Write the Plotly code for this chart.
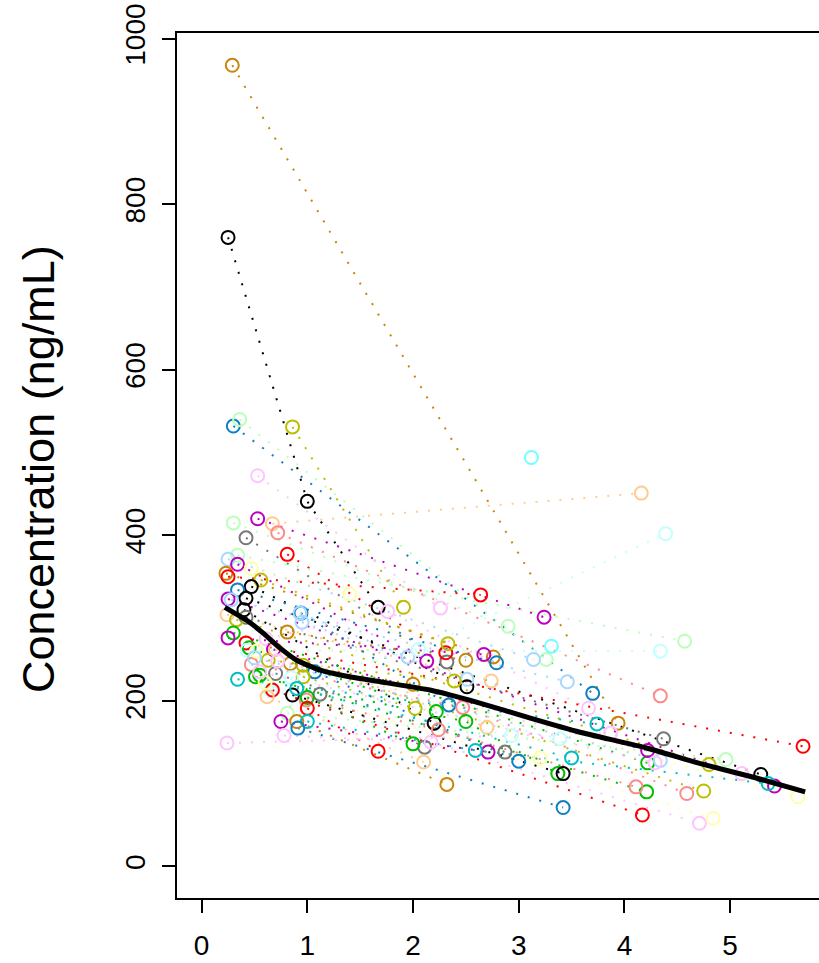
import plotly.graph_objects as go

# ---------------- data ----------------
subject_color = [
    "brown", "black", "blue", "olive", "lightgreen", "pink", "magenta", "peach",
    "salmon", "gray", "red", "lightgreen", "lightblue", "magenta", "lightyellow", "brown",
    "red", "olive", "black", "blue", "black", "magenta", "lightblue", "black",
    "blue", "lightblue", "peach", "gray", "olive", "lightblue", "brown", "green",
    "magenta", "pink", "red", "green", "magenta", "lightcyan", "lightcyan", "gray",
    "olive", "olive", "salmon", "brown", "cyan", "blue", "olive", "green",
    "green", "lightcyan", "red", "gray", "black", "salmon", "green", "red",
    "lightgreen", "lightgreen", "magenta", "brown", "cyan", "blue", "pink", "pink",
    "peach", "peach", "lightyellow", "lightyellow", "lightblue", "lightcyan", "aqua", "aqua",
    "pink", "pink", "cyan",
]
subject_time = [
    [0.29, 3.94], [0.25, 1.00, 1.67], [0.30, 3.70], [0.86, 1.91], [0.36, 3.26], [0.53, 2.26],
    [0.53, 3.24], [0.67, 4.16], [0.72, 4.34], [0.42, 2.32], [0.81, 2.31], [0.34, 4.57],
    [0.25, 3.14], [0.34, 2.13], [0.47, 1.40, 3.20], [0.23, 2.76], [0.25, 2.64], [0.56, 2.33],
    [0.47, 2.51], [0.34, 2.79], [0.42, 5.29], [0.25, 5.42], [0.28, 3.46], [0.40, 2.20],
    [0.94, 2.34], [0.93, 1.95], [0.24, 2.74], [0.42, 4.37], [0.33, 4.80], [0.95, 2.51],
    [0.81, 2.50], [0.30, 4.22], [0.25, 2.67], [0.61, 1.76, 3.66], [0.42, 5.69], [0.45, 2.22],
    [0.68, 4.22], [0.62, 2.05, 4.39], [0.43, 4.34], [0.70, 2.87], [0.63, 2.39], [0.96, 4.75],
    [0.47, 2.47, 4.59], [0.84, 2.00], [0.34, 3.74], [1.07, 3.00], [0.96, 2.02], [0.51, 2.50, 3.37],
    [0.55, 4.21], [0.65, 2.93], [0.67, 4.17], [1.12, 2.11], [0.86, 3.42], [0.99, 2.24, 4.11],
    [1.00, 2.00], [1.00, 1.67], [0.81, 4.96], [0.30, 2.90], [0.75, 2.71], [0.90, 2.32],
    [1.00, 2.59, 5.36], [0.91, 3.42], [0.78, 2.17, 4.71], [0.24, 3.87], [0.70, 2.70], [0.62, 2.10],
    [0.60, 4.84], [0.52, 5.64], [0.50, 4.34], [0.85, 3.39], [3.12], [3.31],
    [0.55, 4.29], [0.72, 5.11], [0.90, 3.50],
]
subject_conc = [
    [968, 173], [760, 441, 313], [532, 209], [531, 313], [540, 250], [472, 312],
    [420, 301], [414, 451], [403, 206], [397, 247], [377, 258], [376, 272],
    [371, 250], [365, 248], [360, 329, 131], [354, 253], [350, 328], [346, 269],
    [338, 217], [334, 246], [324, 111], [323, 97], [322, 223], [310, 173],
    [306, 195], [306, 253], [304, 224], [301, 154], [298, 123], [295, 226],
    [283, 249], [282, 125], [276, 256], [275, 308, 191], [270, 145], [264, 187],
    [262, 140], [219, 262, 402], [261, 260], [233, 138], [249, 224], [243, 91],
    [244, 192, 88], [245, 220], [226, 172], [235, 127], [229, 191], [229, 175, 112],
    [231, 90], [213, 158], [213, 62], [208, 144], [207, 112], [201, 165, 96],
    [204, 148], [191, 139], [185, 129], [415, 290], [175, 138], [175, 99],
    [175, 140, 100], [167, 71], [158, 150, 52], [149, 161], [262, 168], [205, 126],
    [222, 58], [260, 84], [252, 128], [228, 154], [494], [266],
    [235, 125], [248, 112], [215, 131],
]

smooth_time = [0.22, 0.43, 0.58, 0.74, 0.90, 1.12, 1.40, 1.69, 2.16, 2.64, 3.11, 3.58, 4.21, 4.72, 5.24, 5.71]
smooth_conc = [313, 297, 282, 264, 249, 237, 229, 223, 213, 197, 179, 162, 143, 124, 107, 90]

x_ticks = [0, 1, 2, 3, 4, 5]
y_ticks = [0, 200, 400, 600, 800, 1000]
y_label = "Concentration (ng/mL)"

# ---------------- styles ----------------
palette = {
    "black": "#000000", "red": "#FF0000", "green": "#00BE00", "blue": "#0F7FC0",
    "cyan": "#00BFC4", "magenta": "#BE00BE", "olive": "#BEBE00", "gray": "#777777",
    "brown": "#C8860A", "salmon": "#FF8A8A", "lightgreen": "#BBFFBB", "lightblue": "#A8D8FF",
    "lightcyan": "#C4FFFF", "pink": "#FFC4FF", "lightyellow": "#FFFFAA", "peach": "#FFCC90",
    "aqua": "#70FFFF",
}
FONT = "Liberation Sans, Arial, Helvetica, sans-serif"

fig = go.Figure()

# dotted subject lines
for cname, t, c in zip(subject_color, subject_time, subject_conc):
    if len(t) < 2:
        continue
    fig.add_trace(go.Scatter(
        x=t, y=c, mode="lines",
        line=dict(color=palette[cname], width=2, dash="2px,10px"),
        hoverinfo="skip", showlegend=False,
    ))

# open circles
for cname, t, c in zip(subject_color, subject_time, subject_conc):
    fig.add_trace(go.Scatter(
        x=t, y=c, mode="markers",
        marker=dict(symbol="circle-open", size=13, color=palette[cname],
                    line=dict(width=2, color=palette[cname])),
        showlegend=False,
    ))

# smooth
fig.add_trace(go.Scatter(
    x=smooth_time, y=smooth_conc, mode="lines",
    line=dict(color="black", width=5, shape="spline", smoothing=0.4),
    showlegend=False,
))

L, R, T, B = 177, 0, 33, 65
W, H = 819, 963
PW = W - L - R
PH = H - T - B
fig.update_layout(
    width=W, height=H,
    margin=dict(l=L, r=R, t=T, b=B, pad=0, autoexpand=False),
    paper_bgcolor="white", plot_bgcolor="white",
    showlegend=False,
    font=dict(family=FONT, color="black"),
    xaxis=dict(
        range=[-0.233, 5.841], tickvals=x_ticks, ticktext=[str(v) for v in x_ticks],
        ticks="outside", ticklen=13, tickwidth=1.5, tickcolor="black",
        showline=True, linewidth=1.5, linecolor="black", mirror=True,
        showgrid=False, zeroline=False, ticklabelstandoff=9, automargin=False,
        tickfont=dict(size=28, family=FONT, color="black"),
    ),
    yaxis=dict(
        range=[-38.3, 1007], tickvals=y_ticks, ticktext=[str(v) for v in y_ticks],
        tickangle=-90, ticklabeloverflow="allow", automargin=False,
        ticks="outside", ticklen=13, tickwidth=1.5, tickcolor="black",
        showline=True, linewidth=1.5, linecolor="black", mirror=False,
        showgrid=False, zeroline=False, ticklabelstandoff=6,
        tickfont=dict(size=28, family=FONT, color="black"),
    ),
    annotations=[dict(
        text=y_label, textangle=-90, xref="paper", yref="paper",
        x=(38 - L) / PW, y=(H - B - 469) / PH,
        xanchor="center", yanchor="middle", showarrow=False,
        font=dict(size=45, family=FONT, color="black"),
    )],
)

fig.write_html("out.html", config={"displayModeBar": False},
               post_script="document.body.style.margin='0';")
